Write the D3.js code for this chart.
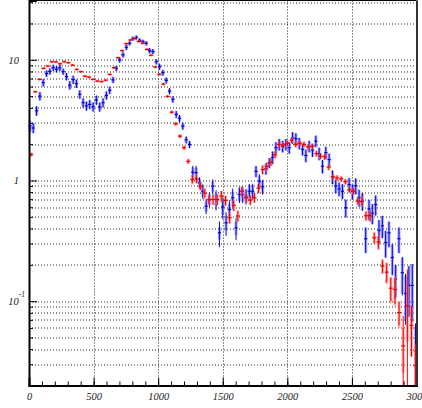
<!DOCTYPE html>
<html>
<head>
<meta charset="utf-8">
<script src="https://cdn.jsdelivr.net/npm/d3@7"></script>
<style>
  body { margin: 0; background: #fff; overflow: hidden; }
  svg { display: block; }
</style>
</head>
<body>
<div id="chart"></div>
<script>
// define constant for frame and margin
const FRAME_WIDTH = 422;
const FRAME_HEIGHT = 408;
const MARGINS = {left: 29, right: 5.5, top: 0.5, bottom: 22.5};
const VIS_WIDTH = FRAME_WIDTH - MARGINS.left - MARGINS.right;
const VIS_HEIGHT = FRAME_HEIGHT - MARGINS.top - MARGINS.bottom;

// axis ticks
const X_TICKS = [0, 500, 1000, 1500, 2000, 2500, 3000];
const Y_TICKS = [0.1, 1, 10];

// red histogram: first bin centre and bin width
const RED_X0 = 17;
const RED_STEP = 32;
const redValues = [1.64, 5.44, 6.88, 8.49, 8.87, 9.61, 9.61, 9.28, 9.64, 9.46,
  9.04, 8.32, 7.97, 7.32, 7.19, 6.88, 6.66, 6.60, 6.77, 7.57,
  8.60, 10.4, 11.9, 13.6, 14.6, 15.0, 14.2, 13.7, 12.2, 10.9,
  8.70, 7.57, 6.29, 4.97, 3.68, 2.95, 2.33, 1.87, 1.44, 1.02,
  1.03, 0.897, 0.785, 0.692, 0.696, 0.696, 0.744, 0.683, 0.491, 0.621,
  0.508, 0.815, 0.719, 0.687, 0.719, 0.863, 1.23, 1.31, 1.42, 1.63,
  1.99, 1.96, 2.03, 2.16, 1.99, 2.03, 1.99, 1.90, 1.92, 1.67,
  1.59, 1.57, 1.29, 1.07, 1.05, 1.03, 0.976, 0.837, 0.815, 0.676,
  0.670, 0.510, 0.510, 0.335, 0.309, 0.195, 0.174, 0.128, 0.125, 0.0804,
  0.0426, 0.0914, 0.063, 0.0292];
// relative errors (statistical, systematic)
const redStat = [0.03, 0.015, 0.015, 0.015, 0.015, 0.015, 0.015, 0.015, 0.015, 0.015,
  0.015, 0.015, 0.015, 0.015, 0.015, 0.015, 0.015, 0.015, 0.015, 0.015,
  0.015, 0.015, 0.015, 0.015, 0.015, 0.015, 0.015, 0.015, 0.015, 0.015,
  0.015, 0.02, 0.02, 0.02, 0.025, 0.03, 0.03, 0.035, 0.04, 0.07,
  0.07, 0.07, 0.08, 0.08, 0.1, 0.1, 0.1, 0.09, 0.1, 0.1,
  0.1, 0.1, 0.08, 0.09, 0.09, 0.09, 0.08, 0.07, 0.07, 0.06,
  0.06, 0.05, 0.05, 0.05, 0.05, 0.05, 0.05, 0.05, 0.05, 0.05,
  0.05, 0.05, 0.05, 0.05, 0.05, 0.05, 0.05, 0.05, 0.06, 0.06,
  0.08, 0.08, 0.1, 0.1, 0.12, 0.12, 0.18, 0.22, 0.24, 0.22,
  0.77, 1.0, 0.45, 0.5];
const redSys = [0.04, 0.025, 0.025, 0.025, 0.025, 0.025, 0.025, 0.025, 0.025, 0.025,
  0.025, 0.025, 0.025, 0.025, 0.025, 0.025, 0.025, 0.025, 0.025, 0.025,
  0.025, 0.025, 0.025, 0.025, 0.025, 0.025, 0.025, 0.025, 0.025, 0.025,
  0.025, 0.025, 0.03, 0.03, 0.035, 0.04, 0.04, 0.045, 0.05, 0.09,
  0.09, 0.09, 0.1, 0.1, 0.1, 0.1, 0.1, 0.1, 0.11, 0.1,
  0.11, 0.1, 0.09, 0.09, 0.09, 0.09, 0.09, 0.08, 0.07, 0.07,
  0.06, 0.06, 0.06, 0.06, 0.06, 0.06, 0.06, 0.06, 0.06, 0.06,
  0.06, 0.06, 0.06, 0.06, 0.05, 0.05, 0.05, 0.06, 0.07, 0.07,
  0.1, 0.1, 0.11, 0.11, 0.14, 0.14, 0.2, 0.25, 0.27, 0.25,
  0.4, 0.5, 0.45, 0.5];

// blue histogram: first bin centre and bin width
const BLUE_X0 = 7;
const BLUE_STEP = 25.74;
const blueValues = [2.83, 2.72, 3.78, 5.00, 6.46, 7.68, 8.01, 8.60, 8.36, 8.60,
  7.98, 7.26, 6.16, 6.85, 6.34, 5.17, 4.41, 4.15, 4.27, 4.08,
  4.65, 4.07, 4.41, 5.07, 5.58, 6.81, 8.49, 9.98, 11.0, 12.7,
  13.7, 15.0, 15.3, 14.5, 14.1, 13.7, 11.9, 11.7, 9.64, 8.77,
  7.82, 6.75, 5.50, 4.70, 3.53, 3.27, 2.82, 2.17, 1.99, 1.17,
  1.16, 0.957, 0.815, 0.612, 0.696, 0.897, 0.696, 0.368, 0.605, 0.446,
  0.575, 0.719, 0.405, 0.765, 0.765, 0.741, 0.815, 0.815, 1.19, 0.987,
  0.887, 1.25, 1.40, 1.55, 1.87, 1.99, 1.92, 1.99, 1.87, 2.26,
  2.22, 2.03, 1.81, 1.61, 1.92, 1.78, 2.12, 1.67, 1.31, 1.70,
  1.49, 1.07, 0.900, 0.850, 0.815, 0.594, 0.927, 0.811, 0.904, 0.723,
  0.674, 0.329, 0.580, 0.535, 0.632, 0.385, 0.421, 0.306, 0.368, 0.230,
  0.153, 0.329, 0.172, 0.116, 0.135, 0.135, 0.0384];
const blueStat = [0.10, 0.09, 0.09, 0.08, 0.07, 0.06, 0.06, 0.06, 0.06, 0.06,
  0.06, 0.07, 0.08, 0.08, 0.08, 0.08, 0.09, 0.09, 0.09, 0.09,
  0.09, 0.09, 0.09, 0.08, 0.07, 0.06, 0.05, 0.05, 0.05, 0.05,
  0.04, 0.04, 0.04, 0.04, 0.04, 0.04, 0.05, 0.05, 0.05, 0.06,
  0.06, 0.06, 0.06, 0.06, 0.07, 0.07, 0.07, 0.07, 0.07, 0.13,
  0.14, 0.11, 0.14, 0.14, 0.14, 0.14, 0.19, 0.24, 0.21, 0.22,
  0.19, 0.19, 0.21, 0.15, 0.15, 0.15, 0.15, 0.15, 0.11, 0.14,
  0.14, 0.11, 0.10, 0.12, 0.11, 0.11, 0.11, 0.11, 0.11, 0.11,
  0.11, 0.11, 0.11, 0.12, 0.11, 0.12, 0.11, 0.12, 0.13, 0.12,
  0.12, 0.13, 0.13, 0.13, 0.14, 0.17, 0.13, 0.14, 0.15, 0.16,
  0.17, 0.24, 0.19, 0.19, 0.19, 0.22, 0.21, 0.25, 0.24, 0.29,
  0.30, 0.24, 0.35, 0.45, 0.45, 0.50, 0.70];
const blueSys = [0.11, 0.10, 0.09, 0.08, 0.07, 0.06, 0.06, 0.06, 0.06, 0.06,
  0.06, 0.07, 0.08, 0.08, 0.08, 0.08, 0.08, 0.08, 0.08, 0.08,
  0.08, 0.08, 0.08, 0.07, 0.07, 0.06, 0.05, 0.05, 0.05, 0.05,
  0.04, 0.04, 0.04, 0.04, 0.04, 0.04, 0.05, 0.05, 0.05, 0.05,
  0.05, 0.05, 0.05, 0.06, 0.06, 0.06, 0.06, 0.06, 0.06, 0.10,
  0.10, 0.09, 0.10, 0.10, 0.10, 0.10, 0.12, 0.12, 0.14, 0.14,
  0.12, 0.12, 0.13, 0.12, 0.12, 0.12, 0.12, 0.12, 0.10, 0.11,
  0.11, 0.10, 0.09, 0.12, 0.11, 0.11, 0.11, 0.11, 0.11, 0.11,
  0.11, 0.11, 0.11, 0.12, 0.11, 0.12, 0.11, 0.12, 0.12, 0.12,
  0.12, 0.13, 0.13, 0.13, 0.14, 0.16, 0.13, 0.14, 0.15, 0.16,
  0.16, 0.24, 0.19, 0.19, 0.19, 0.22, 0.21, 0.25, 0.24, 0.28,
  0.30, 0.24, 0.33, 0.40, 0.45, 0.50, 0.60];

// build the svg frame
const FRAME = d3.select("#chart")
  .append("svg")
    .attr("width", FRAME_WIDTH)
    .attr("height", FRAME_HEIGHT);

const plot = FRAME.append("g")
  .attr("transform", "translate(" + MARGINS.left + "," + MARGINS.top + ")");

// scales
const xScale = d3.scaleLinear()
  .domain([0, 3000])
  .range([0, VIS_WIDTH]);
const yScale = d3.scaleLog()
  .domain([0.02, 31])
  .range([VIS_HEIGHT, 0])
  .clamp(true);

// minor tick values on the log axis (2..9 of every decade)
const yMinor = [];
[0.01, 0.1, 1, 10].forEach((dec) => {
  for (let k = 2; k <= 9; k++) {
    const v = +(k * dec).toPrecision(3);
    if (v >= 0.02 && v <= 31) yMinor.push(v);
  }
});
const xMinor = d3.range(0, 3001, 100);

// dotted grid
plot.selectAll(".hgrid")
  .data(yMinor.concat(Y_TICKS))
  .enter()
  .append("line")
    .attr("x1", 0)
    .attr("x2", VIS_WIDTH)
    .attr("y1", (d) => Math.round(yScale(d)) + 0.5)
    .attr("y2", (d) => Math.round(yScale(d)) + 0.5)
    .attr("stroke", "#222")
    .attr("stroke-width", 1)
    .attr("stroke-dasharray", "1,2");

plot.selectAll(".vgrid")
  .data(X_TICKS.slice(1, -1))
  .enter()
  .append("line")
    .attr("x1", (d) => Math.round(xScale(d)) + 0.5)
    .attr("x2", (d) => Math.round(xScale(d)) + 0.5)
    .attr("y1", 0)
    .attr("y2", VIS_HEIGHT)
    .attr("stroke", "#222")
    .attr("stroke-width", 1)
    .attr("stroke-dasharray", "1,2");

// draw one histogram with stat bars and systematic boxes
function drawSeries(x0, step, values, stat, sys, dark, light) {
  const data = values.map((v, i) => ({x: x0 + i * step, v: v, st: stat[i], sy: sys[i]}));
  const g = plot.append("g");
  const SYS_W = 3;

  g.selectAll("rect")
    .data(data)
    .enter()
    .append("rect")
      .attr("x", (d) => xScale(d.x) - SYS_W / 2)
      .attr("y", (d) => yScale(d.v * (1 + d.sy)))
      .attr("width", SYS_W)
      .attr("height", (d) => yScale(Math.max(d.v * (1 - d.sy), 1e-4)) - yScale(d.v * (1 + d.sy)))
      .attr("fill", light);

  g.selectAll(".stat")
    .data(data)
    .enter()
    .append("line")
      .attr("x1", (d) => xScale(d.x))
      .attr("x2", (d) => xScale(d.x))
      .attr("y1", (d) => yScale(d.v * (1 + d.st)))
      .attr("y2", (d) => yScale(Math.max(d.v * (1 - d.st), 1e-4)))
      .attr("stroke", dark)
      .attr("stroke-width", 1);

  g.selectAll(".bin")
    .data(data)
    .enter()
    .append("line")
      .attr("x1", (d) => xScale(d.x - step / 2))
      .attr("x2", (d) => xScale(d.x + step / 2))
      .attr("y1", (d) => yScale(d.v))
      .attr("y2", (d) => yScale(d.v))
      .attr("stroke", dark)
      .attr("stroke-width", 1.2);
}

drawSeries(BLUE_X0, BLUE_STEP, blueValues, blueStat, blueSys, "#0000dd", "rgba(120,120,255,0.6)");
drawSeries(RED_X0, RED_STEP, redValues, redStat, redSys, "#ee0000", "rgba(255,120,120,0.6)");

// axes
const FONT = "'Liberation Serif', 'DejaVu Serif', serif";

const xAxis = plot.append("g")
  .attr("transform", "translate(0," + VIS_HEIGHT + ")")
  .call(d3.axisBottom(xScale).tickValues(X_TICKS).tickSize(-8).tickPadding(7)
    .tickFormat(d3.format("d")));
plot.append("g")
  .attr("transform", "translate(0," + VIS_HEIGHT + ")")
  .call(d3.axisBottom(xScale).tickValues(xMinor).tickSize(-4).tickFormat(""))
  .call((g) => g.select(".domain").remove());

const yAxis = plot.append("g")
  .call(d3.axisLeft(yScale).tickValues(Y_TICKS).tickSize(-8).tickPadding(10)
    .tickFormat((d) => d === 0.1 ? "10" : d3.format("d")(d)));
plot.append("g")
  .call(d3.axisLeft(yScale).tickValues(yMinor).tickSize(-4).tickFormat(""))
  .call((g) => g.select(".domain").remove());

[xAxis, yAxis].forEach((ax) => {
  ax.select(".domain").attr("stroke-width", 2).attr("stroke", "#000");
  ax.selectAll("text")
    .attr("font-family", FONT)
    .attr("font-style", "italic")
    .attr("font-size", 10.5)
    .attr("fill", "#222");
});

// exponent for the 10^-1 label
yAxis.selectAll(".tick")
  .filter((d) => d === 0.1)
  .select("text")
    .attr("x", -4)
    .append("tspan")
      .attr("dy", -8)
      .attr("font-size", 7.5)
      .text("-1");

// frame top and right edges
plot.append("line")
  .attr("x1", 0).attr("x2", VIS_WIDTH)
  .attr("y1", 0).attr("y2", 0)
  .attr("stroke", "#000").attr("stroke-width", 1);
plot.append("line")
  .attr("x1", VIS_WIDTH + 0.5).attr("x2", VIS_WIDTH + 0.5)
  .attr("y1", 0).attr("y2", VIS_HEIGHT)
  .attr("stroke", "#333").attr("stroke-width", 2);
</script>
</body>
</html>
